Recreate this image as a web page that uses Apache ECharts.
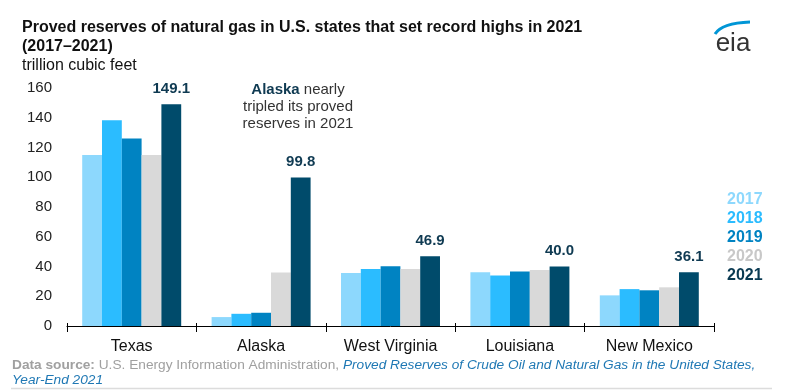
<!DOCTYPE html>
<html>
<head>
<meta charset="utf-8">
<script src="https://cdn.jsdelivr.net/npm/echarts@6/dist/echarts.min.js"></script>
<style>
html,body{margin:0;padding:0;background:#fff;}
#chart{width:785px;height:392px;}
</style>
</head>
<body>
<div id="chart"></div>
<script>
var categories = ['Texas', 'Alaska', 'West Virginia', 'Louisiana', 'New Mexico'];
var years = ['2017', '2018', '2019', '2020', '2021'];
var v2017 = [115.0, 6.0, 35.6, 36.2, 20.6];
var v2018 = [138.4, 8.2, 38.3, 34.0, 24.8];
var v2019 = [126.0, 8.9, 40.1, 36.7, 24.0];
var v2020 = [114.9, 35.9, 38.3, 37.6, 26.0];
var v2021 = [149.1, 99.8, 46.9, 40.0, 36.1];
var yTicks = [0, 20, 40, 60, 80, 100, 120, 140, 160];

var colors = ['#8dd8fd', '#2bbcff', '#0083c2', '#d9d9d9', '#004b6b'];
var legendColors = ['#8dd8fd', '#2bbcff', '#0083c2', '#c8c8c8', '#0a3a52'];
var seriesValues = [v2017, v2018, v2019, v2020, v2021];
var FONT = '"Liberation Sans", Arial, Helvetica, sans-serif';

var chart = echarts.init(document.getElementById('chart'), null, {renderer: 'canvas'});

var series = years.map(function (y, i) {
  var s = {
    name: y,
    type: 'bar',
    xAxisIndex: 0,
    data: seriesValues[i],
    barGap: '0%',
    barCategoryGap: '23.5%',
    itemStyle: {color: colors[i]},
    emphasis: {disabled: true},
    animation: false
  };
  if (i === 4) {
    s.label = {
      show: true,
      position: 'top',
      distance: 8,
      formatter: function (p) { return p.value.toFixed(1); },
      fontFamily: FONT,
      fontSize: 15,
      fontWeight: 'bold',
      color: '#0f3a52'
    };
  }
  return s;
});

var option = {
  animation: false,
  textStyle: {fontFamily: FONT},
  title: {
    text: 'Proved reserves of natural gas in U.S. states that set record highs in 2021\n(2017–2021)',
    subtext: 'trillion cubic feet',
    left: 22,
    top: 18,
    padding: 0,
    itemGap: 0,
    textStyle: {fontFamily: FONT, fontSize: 16, fontWeight: 'bold', color: '#111', lineHeight: 19},
    subtextStyle: {fontFamily: FONT, fontSize: 16, color: '#111', lineHeight: 19}
  },
  legend: {
    orient: 'vertical',
    left: 717,
    top: 187,
    itemWidth: 0,
    itemHeight: 16,
    itemGap: 3,
    selectedMode: false,
    icon: 'rect',
    itemStyle: {opacity: 0},
    data: years.map(function (y, i) {
      return {name: y, textStyle: {color: legendColors[i], fontFamily: FONT, fontSize: 16, fontWeight: 'bold'}};
    })
  },
  grid: {left: 67, right: 71, top: 88, bottom: 66, containLabel: false},
  xAxis: [{
    type: 'category',
    data: categories,
    axisLine: {show: true, lineStyle: {color: '#000', width: 1}},
    axisTick: {show: true, length: 6, lineStyle: {color: '#000', width: 1}},
    axisLabel: {fontFamily: FONT, fontSize: 16, color: '#111', margin: 13, interval: 0}
  }, {
    type: 'category',
    data: categories,
    position: 'bottom',
    axisLine: {show: false},
    axisTick: {show: true, inside: true, length: 3, lineStyle: {color: '#000', width: 1}},
    axisLabel: {show: false}
  }],
  yAxis: {
    type: 'value',
    min: yTicks[0],
    max: yTicks[yTicks.length - 1],
    interval: 20,
    axisLine: {show: false},
    axisTick: {show: false},
    splitLine: {show: false},
    axisLabel: {fontFamily: FONT, fontSize: 15, color: '#222', margin: 15}
  },
  series: series,
  graphic: [
    {
      type: 'text',
      x: 298,
      y: 81,
      style: {
        text: '{b|Alaska} nearly\ntripled its proved\nreserves in 2021',
        align: 'center',
        verticalAlign: 'top',
        fontFamily: FONT,
        fontSize: 15,
        lineHeight: 17,
        fill: '#333',
        rich: {
          b: {fontFamily: FONT, fontSize: 15, fontWeight: 'bold', fill: '#0f3a52', lineHeight: 17}
        }
      }
    },
    {
      type: 'text',
      x: 12,
      y: 358,
      style: {
        text: '{b|Data source:} {g|U.S. Energy Information Administration, }{i|Proved Reserves of Crude Oil and Natural Gas in the United States,}\n{i|Year-End 2021}',
        fontFamily: FONT,
        fontSize: 13.7,
        lineHeight: 15,
        fill: '#a0a0a0',
        rich: {
          b: {fontFamily: FONT, fontSize: 13.7, fontWeight: 'bold', fill: '#a0a0a0', lineHeight: 15},
          g: {fontFamily: FONT, fontSize: 13.7, fill: '#a0a0a0', lineHeight: 15},
          i: {fontFamily: FONT, fontSize: 13.7, fontStyle: 'italic', fill: '#1f78b4', lineHeight: 15}
        }
      }
    },
    {
      type: 'line',
      shape: {x1: 11, y1: 388.5, x2: 772, y2: 388.5},
      style: {stroke: '#dcdcdc', lineWidth: 1.5}
    },
    {
      type: 'bezierCurve',
      shape: {x1: 715, y1: 34, x2: 750, y2: 22, cpx1: 722, cpy1: 23},
      style: {stroke: '#0096d6', lineWidth: 3, fill: null}
    },
    {
      type: 'text',
      x: 733,
      y: 31,
      style: {
        text: 'eia',
        align: 'center',
        verticalAlign: 'top',
        fontFamily: FONT,
        fontSize: 26,
        fontWeight: 'normal',
        fill: '#333'
      }
    }
  ]
};
chart.setOption(option);
</script>
</body>
</html>
